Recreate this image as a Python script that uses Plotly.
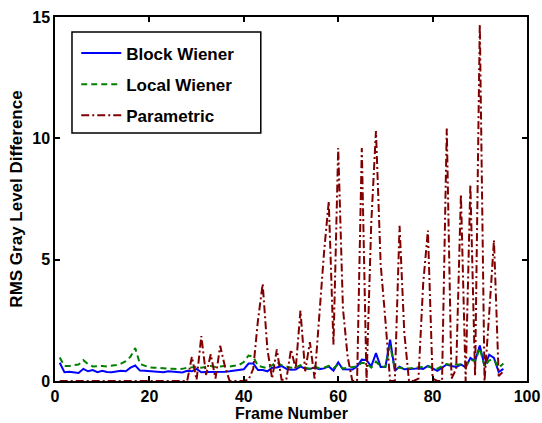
import plotly.graph_objects as go

frames = list(range(1, 96))

block_wiener = [
    0.75, 0.36, 0.38, 0.37, 0.33, 0.50, 0.40, 0.45, 0.36, 0.42,
    0.37, 0.36, 0.38, 0.42, 0.40, 0.55, 0.64, 0.43, 0.42, 0.40,
    0.38, 0.37, 0.36, 0.40, 0.39, 0.37, 0.35, 0.42, 0.40, 0.50,
    0.36, 0.37, 0.37, 0.38, 0.36, 0.38, 0.40, 0.42, 0.43, 0.48,
    0.72, 0.72, 0.45, 0.45, 0.40, 0.55, 0.56, 0.62, 0.50, 0.46,
    0.47, 0.60, 0.50, 0.50, 0.55, 0.49, 0.52, 0.60, 0.43, 0.77,
    0.48, 0.48, 0.47, 0.60, 0.88, 0.86, 0.60, 1.15, 0.58, 0.58,
    1.70, 0.42, 0.59, 0.48, 0.48, 0.50, 0.52, 0.50, 0.62, 0.52,
    0.42, 0.55, 0.68, 0.62, 0.58, 0.68, 0.56, 0.95, 0.82, 1.46,
    0.62, 1.08, 0.95, 0.37, 0.50,
]

local_wiener = [
    0.97, 0.62, 0.62, 0.65, 0.68, 0.86, 0.70, 0.60, 0.62, 0.62,
    0.60, 0.62, 0.66, 0.72, 0.82, 1.00, 1.36, 0.70, 0.62, 0.56,
    0.55, 0.53, 0.52, 0.52, 0.50, 0.49, 0.50, 0.55, 0.56, 0.58,
    0.55, 0.58, 0.62, 0.58, 0.60, 0.62, 0.60, 0.62, 0.66, 0.78,
    1.05, 1.00, 0.62, 0.58, 0.52, 0.65, 0.78, 0.65, 0.60, 0.55,
    0.55, 0.65, 0.55, 0.50, 0.60, 0.52, 0.55, 0.62, 0.52, 0.68,
    0.52, 0.55, 0.55, 0.60, 0.75, 0.72, 0.55, 0.80, 0.60, 0.58,
    1.45, 0.52, 0.55, 0.50, 0.52, 0.55, 0.55, 0.58, 0.60, 0.58,
    0.50, 0.62, 0.70, 0.65, 0.68, 0.68, 0.62, 0.88, 0.82, 1.35,
    0.60, 0.85, 0.88, 0.55, 0.72,
]

parametric = [
    0.0, 0.0, 0.0, 0.0, 0.0, 0.0, 0.0, 0.0, 0.0, 0.0,
    0.0, 0.0, 0.0, 0.0, 0.0, 0.0, 0.0, 0.0, 0.0, 0.0,
    0.0, 0.0, 0.0, 0.0, 0.0, 0.0, 0.0, 0.0, 1.0, 0.05,
    1.85, 0.25, 1.1, 0.1, 1.45, 0.6, 0.0, 0.0, 0.0, 0.0,
    0.05, 0.5, 2.5, 4.0, 1.3, 0.1, 1.3, 0.05, 0.05, 1.3,
    0.5, 2.9, 0.4, 1.6, 0.1, 2.6, 5.3, 7.4, 1.5, 9.6,
    3.0, 1.0, 0.0, 0.0, 9.6, 0.0, 6.5, 10.3, 4.8, 2.5,
    0.0, 0.0, 6.4, 2.0, 0.0, 0.0, 0.1, 4.0, 6.2, 0.1,
    0.0, 0.0, 10.4, 0.1, 0.5, 7.7, 0.0, 8.1, 0.2, 14.7,
    0.0, 2.8, 5.8, 0.2, 0.4,
]

x_ticks = [0, 20, 40, 60, 80, 100]
y_ticks = [0, 5, 10, 15]

FONT = "Liberation Sans"
BOLD17 = dict(family=FONT, size=17, color="black", weight="bold")
BOLD16 = dict(family=FONT, size=16, color="black", weight="bold")

fig = go.Figure()
fig.add_trace(go.Scatter(x=frames, y=block_wiener, mode="lines", name="Block Wiener",
                         legendgroup="a",
                         line=dict(color="#0000FF", width=2)))
fig.add_trace(go.Scatter(x=frames, y=local_wiener, mode="lines", name="Local Wiener",
                         legendgroup="b",
                         line=dict(color="#008000", width=2, dash="6px,4px")))
fig.add_trace(go.Scatter(x=frames, y=parametric, mode="lines", name="Parametric",
                         legendgroup="c",
                         line=dict(color="#800000", width=2, dash="8px,3px,2px,3px")))

axis_common = dict(
    showline=True, linecolor="black", linewidth=1.5, mirror="ticks",
    ticks="inside", ticklen=5, tickwidth=1.5, tickcolor="black",
    showgrid=False, zeroline=False, automargin=False,
    tickfont=BOLD16,
)

B = 42
plot_h = 423 - 17 - B

fig.update_layout(
    width=542, height=423,
    margin=dict(l=55, r=15, t=17, b=B),
    paper_bgcolor="white", plot_bgcolor="white",
    xaxis=dict(range=[0, 100], tickvals=x_ticks, **axis_common),
    yaxis=dict(range=[0, 15], tickvals=y_ticks,
               title=dict(text="RMS Gray Level Difference", standoff=5, font=BOLD17),
               **axis_common),
    legend=dict(x=0.045, y=0.949, xanchor="left", yanchor="top",
                bgcolor="rgba(0,0,0,0)", borderwidth=0,
                tracegroupgap=6, itemwidth=40,
                font=BOLD17),
    shapes=[dict(type="rect", xref="paper", yref="paper",
                 x0=0.036, x1=0.436, y0=1 - (133 - 17) / plot_h, y1=1 - (32 - 17) / plot_h,
                 line=dict(color="black", width=1.5), fillcolor="white", layer="above")],
    annotations=[dict(text="Frame Number", xref="paper", yref="paper",
                      x=0.5, y=-(423 - (423 - B)) / plot_h,
                      xanchor="center", yanchor="bottom",
                      showarrow=False, font=BOLD16, borderpad=0)],
    showlegend=True,
)

fig.write_html("out.html")
